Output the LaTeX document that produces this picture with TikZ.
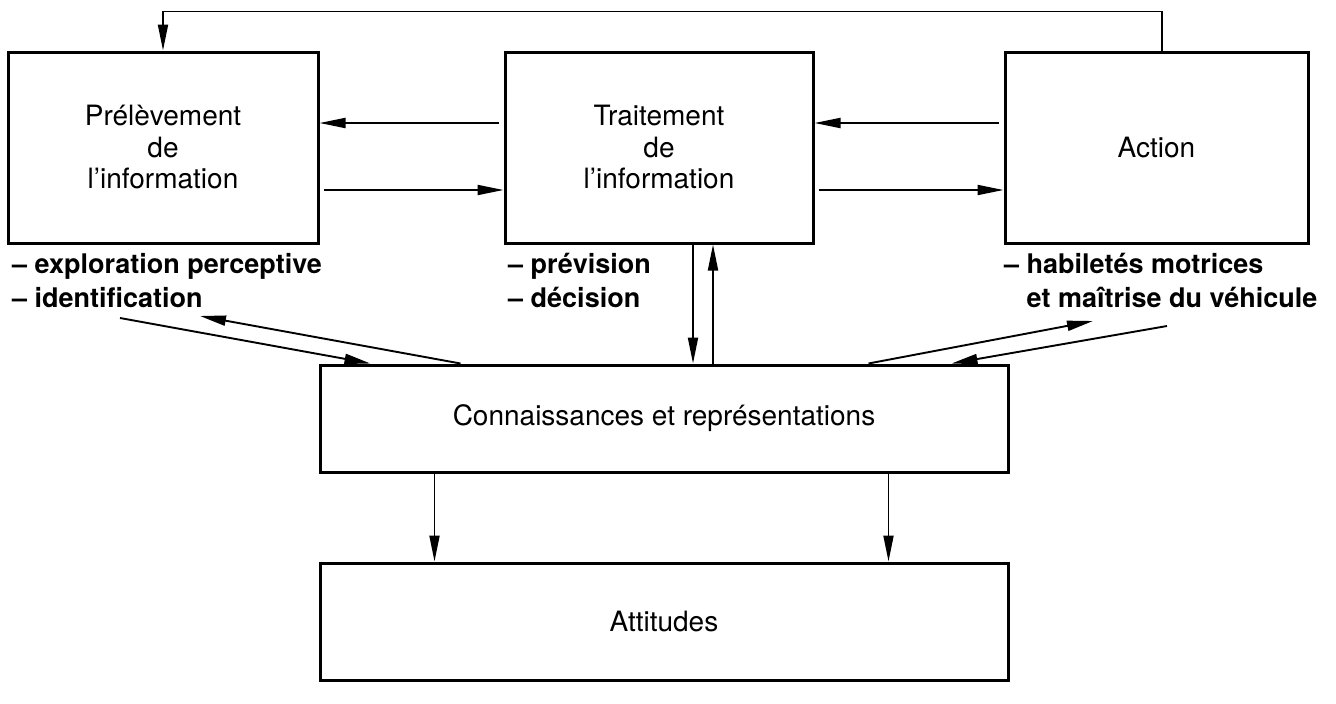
\documentclass[tikz,border=0pt]{standalone}
\usepackage{fontspec}
\setmainfont{TeX Gyre Heros}
\usetikzlibrary{arrows.meta}
\begin{document}
\begin{tikzpicture}[x=1pt,y=-1pt,
  box/.style={draw, line width=3pt, inner sep=0pt, align=center,
    font=\fontsize{28}{31.5}\selectfont},
  conn/.style={line width=1.9pt, -{Triangle[length=26pt,width=10pt]}},
  bul/.style={font=\fontsize{27}{34}\selectfont\bfseries, align=left,
    anchor=base west, inner sep=0pt}]
\useasboundingbox (0,0) rectangle (1336,704);
% boxes
\node[box, minimum width=310pt, minimum height=191pt] (P) at (163,147.5)
  {Prélèvement\\de\\l’information};
\node[box, minimum width=308pt, minimum height=191pt] (T) at (659,147.5)
  {Traitement\\de\\l’information};
\node[box, minimum width=303pt, minimum height=191pt] (A) at (1156.5,147.5)
  {Action};
\node[box, minimum width=688pt, minimum height=107pt] (C) at (664,418.5)
  {Connaissances et représentations};
\node[box, minimum width=688pt, minimum height=117pt] (At) at (664,621.5)
  {Attitudes};
% bullet labels (anchor = baseline of the last line)
\node[bul] (Pb) at (12,307) {– exploration perceptive\\– identification};
\node[bul] (Tb) at (508,307) {– prévision\\– décision};
\node[bul] (Ab) at (1004,307) {– habiletés motrices\\\phantom{– }et maîtrise du véhicule};
% helper coordinates
\coordinate (r1) at (0,123);
\coordinate (r2) at (0,190);
\coordinate (dx) at (693,0);
\coordinate (ux) at (713,0);
\coordinate (pl1) at (120,318);
\coordinate (pl2) at (200,316);
\coordinate (al1) at (1093,321);
\coordinate (al2) at (1167,326);
% feedback loop
\draw[conn] ([xshift=5.5pt]A.north) -- ++(0,-39) -| (P.north);
% horizontal arrows
\draw[conn, shorten <=5pt] (T.west |- r1) -- (P.east |- r1);
\draw[conn, shorten <=4pt] (P.east |- r2) -- (T.west |- r2);
\draw[conn, shorten <=5pt] (A.west |- r1) -- (T.east |- r1);
\draw[conn, shorten <=4pt] (T.east |- r2) -- (A.west |- r2);
% vertical T-C
\draw[conn] (T.south -| dx) -- (C.north -| dx);
\draw[conn] (C.north -| ux) -- (T.south -| ux);
% diagonals
\draw[conn] (pl1) -- ([xshift=52pt]C.north west);
\draw[conn] ([xshift=142pt]C.north west) -- (pl2);
\draw[conn] ([xshift=550pt]C.north west) -- (al1);
\draw[conn] (al2) -- ([xshift=633pt]C.north west);
% down arrows
\draw[conn] ([xshift=116pt]C.south west) -- ([xshift=116pt]At.north west);
\draw[conn] ([xshift=570pt]C.south west) -- ([xshift=570pt]At.north west);
\end{tikzpicture}
\end{document}
